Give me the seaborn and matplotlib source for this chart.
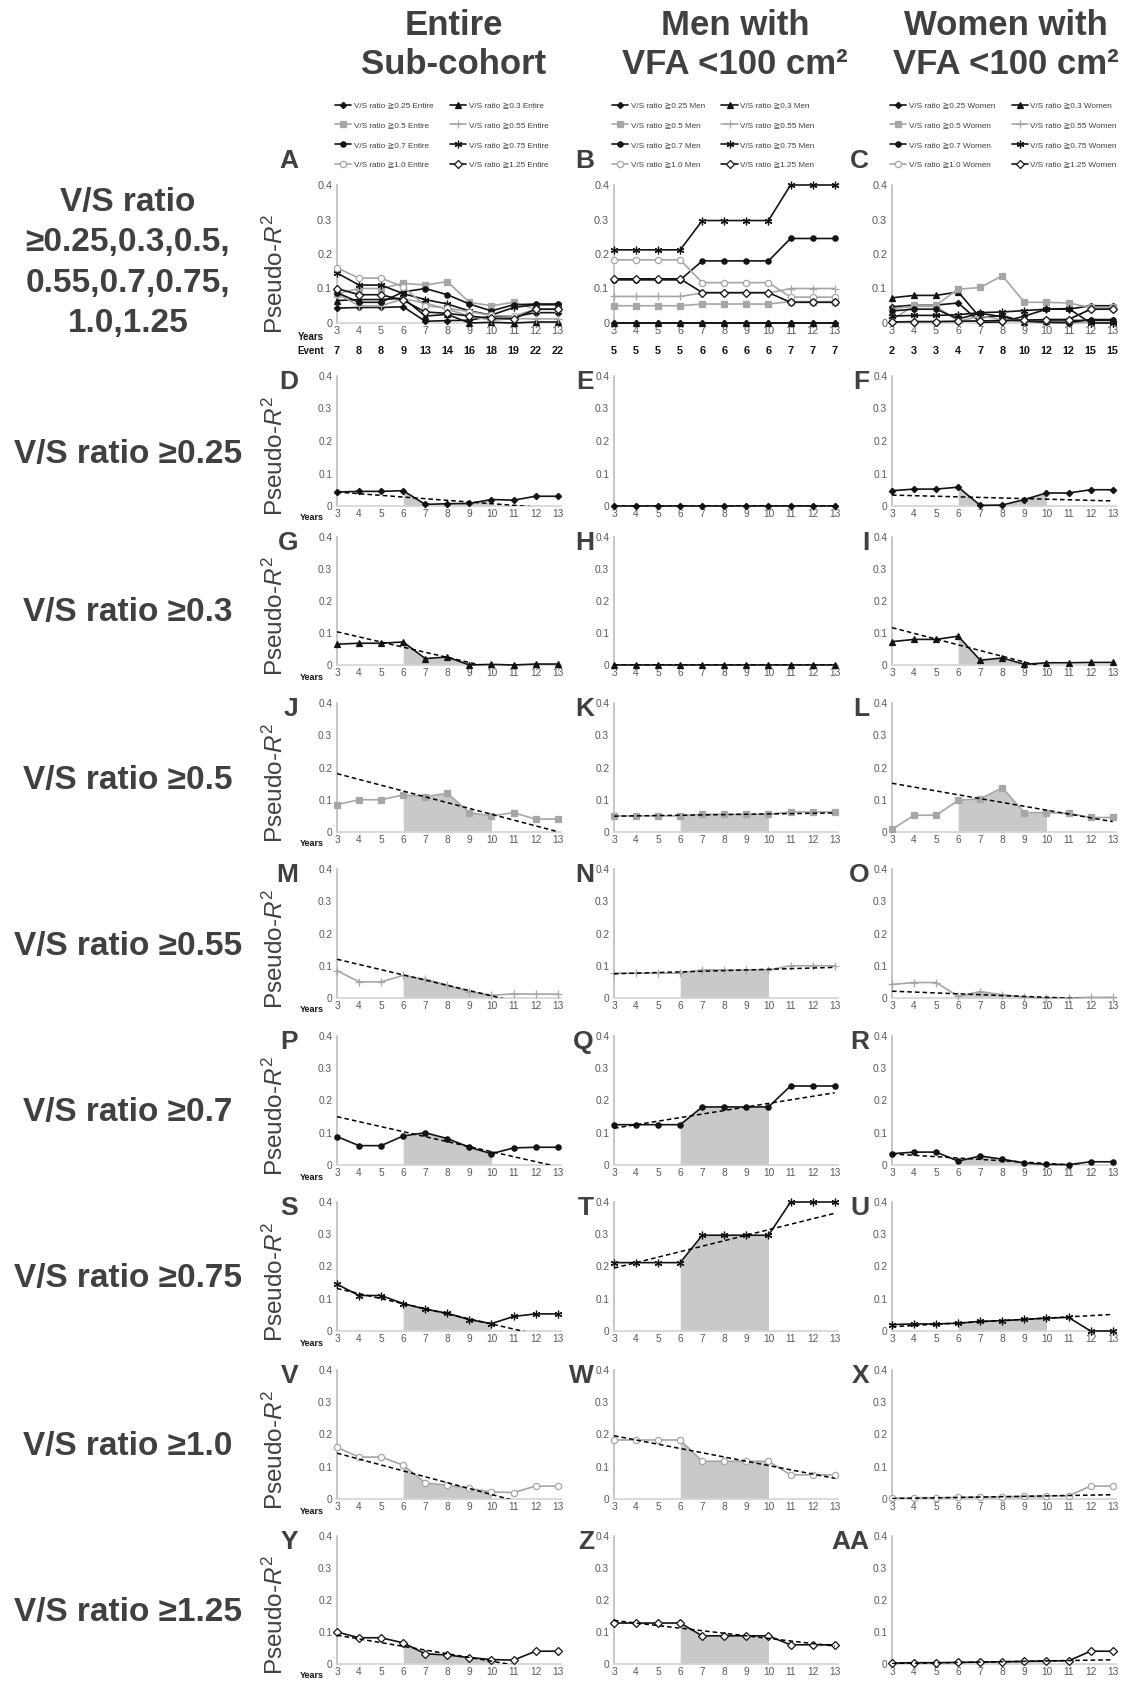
import numpy as np
import pandas as pd
import matplotlib
matplotlib.use("Agg")
import matplotlib.pyplot as plt
import seaborn as sns
from matplotlib import font_manager
from matplotlib.transforms import blended_transform_factory

# ---------------- data ----------------
years = [3, 4, 5, 6, 7, 8, 9, 10, 11, 12, 13]
ratio_labels = ["0.25", "0.3", "0.5", "0.55", "0.7", "0.75", "1.0", "1.25"]
group_names = ["Entire", "Men", "Women"]

# Entire sub-cohort
entire_025 = [0.043, 0.045, 0.045, 0.047, 0.005, 0.007, 0.008, 0.020, 0.018, 0.030, 0.030]
entire_030 = [0.065, 0.068, 0.068, 0.072, 0.020, 0.025, 0.000, 0.002, 0.000, 0.003, 0.003]
entire_050 = [0.085, 0.100, 0.100, 0.115, 0.110, 0.120, 0.060, 0.050, 0.060, 0.040, 0.040]
entire_055 = [0.085, 0.050, 0.050, 0.070, 0.058, 0.040, 0.020, 0.008, 0.013, 0.012, 0.012]
entire_070 = [0.088, 0.060, 0.060, 0.090, 0.100, 0.082, 0.055, 0.035, 0.053, 0.055, 0.055]
entire_075 = [0.145, 0.110, 0.110, 0.085, 0.068, 0.055, 0.035, 0.023, 0.045, 0.053, 0.053]
entire_100 = [0.160, 0.130, 0.130, 0.105, 0.050, 0.043, 0.033, 0.022, 0.020, 0.040, 0.040]
entire_125 = [0.100, 0.082, 0.082, 0.066, 0.032, 0.028, 0.020, 0.014, 0.012, 0.040, 0.040]

# Men with VFA < 100 cm2
men_025 = [0.0, 0.0, 0.0, 0.0, 0.0, 0.0, 0.0, 0.0, 0.0, 0.0, 0.0]
men_030 = [0.0, 0.0, 0.0, 0.0, 0.0, 0.0, 0.0, 0.0, 0.0, 0.0, 0.0]
men_050 = [0.050, 0.050, 0.050, 0.050, 0.055, 0.055, 0.055, 0.055, 0.062, 0.062, 0.062]
men_055 = [0.077, 0.077, 0.077, 0.077, 0.087, 0.087, 0.087, 0.087, 0.100, 0.100, 0.100]
men_070 = [0.125, 0.125, 0.125, 0.125, 0.180, 0.180, 0.180, 0.180, 0.245, 0.245, 0.245]
men_075 = [0.212, 0.212, 0.212, 0.212, 0.297, 0.297, 0.297, 0.297, 0.400, 0.400, 0.400]
men_100 = [0.183, 0.183, 0.183, 0.183, 0.117, 0.117, 0.117, 0.117, 0.075, 0.075, 0.075]
men_125 = [0.128, 0.128, 0.128, 0.128, 0.088, 0.088, 0.088, 0.088, 0.060, 0.060, 0.060]

# Women with VFA < 100 cm2
women_025 = [0.047, 0.052, 0.052, 0.058, 0.002, 0.003, 0.020, 0.040, 0.040, 0.050, 0.050]
women_030 = [0.073, 0.080, 0.080, 0.090, 0.015, 0.022, 0.002, 0.007, 0.007, 0.008, 0.008]
women_050 = [0.008, 0.052, 0.052, 0.098, 0.103, 0.137, 0.060, 0.060, 0.058, 0.045, 0.045]
women_055 = [0.042, 0.048, 0.048, 0.005, 0.020, 0.010, 0.003, 0.000, 0.000, 0.002, 0.002]
women_070 = [0.035, 0.040, 0.040, 0.012, 0.028, 0.018, 0.006, 0.002, 0.001, 0.010, 0.010]
women_075 = [0.020, 0.022, 0.022, 0.024, 0.030, 0.032, 0.036, 0.040, 0.042, 0.000, 0.000]
women_100 = [0.003, 0.004, 0.004, 0.005, 0.006, 0.007, 0.008, 0.010, 0.010, 0.040, 0.040]
women_125 = [0.003, 0.004, 0.004, 0.005, 0.006, 0.007, 0.008, 0.010, 0.010, 0.040, 0.040]

events_entire = [7, 8, 8, 9, 13, 14, 16, 18, 19, 22, 22]
events_men = [5, 5, 5, 5, 6, 6, 6, 6, 7, 7, 7]
events_women = [2, 3, 3, 4, 7, 8, 10, 12, 12, 15, 15]

series = {
    "Entire": [entire_025, entire_030, entire_050, entire_055, entire_070, entire_075, entire_100, entire_125],
    "Men": [men_025, men_030, men_050, men_055, men_070, men_075, men_100, men_125],
    "Women": [women_025, women_030, women_050, women_055, women_070, women_075, women_100, women_125],
}
events = {"Entire": events_entire, "Men": events_men, "Women": events_women}

col_titles = ["Entire\nSub-cohort", "Men with\nVFA <100 cm\u00b2", "Women with\nVFA <100 cm\u00b2"]
row_titles = ["V/S ratio\n\u22650.25,0.3,0.5,\n0.55,0.7,0.75,\n1.0,1.25"] + \
             ["V/S ratio \u2265" + r for r in ratio_labels]
panel_letters = [["A", "B", "C"], ["D", "E", "F"], ["G", "H", "I"], ["J", "K", "L"],
                 ["M", "N", "O"], ["P", "Q", "R"], ["S", "T", "U"], ["V", "W", "X"],
                 ["Y", "Z", "AA"]]

# ---------------- style ----------------
sns.set_style("white")
plt.rcParams["font.family"] = ["Liberation Sans", "DejaVu Sans"]
plt.rcParams["mathtext.fontset"] = "custom"
plt.rcParams["mathtext.rm"] = "Liberation Sans"
plt.rcParams["mathtext.it"] = "Liberation Sans:italic"
plt.rcParams["mathtext.bf"] = "Liberation Sans:bold"

available = {f.name for f in font_manager.fontManager.ttflist}
narrow = "Liberation Sans Narrow" if "Liberation Sans Narrow" in available else "Liberation Sans"

BLACK = "#141414"
GRAY = "#a6a6a6"
TXT = "#404040"
TICK = "#595959"
styles = [
    dict(color=BLACK, marker="D", mfc=BLACK, mec=BLACK, ms=3.2),
    dict(color=BLACK, marker="^", mfc=BLACK, mec=BLACK, ms=4.2),
    dict(color=GRAY, marker="s", mfc=GRAY, mec=GRAY, ms=4.3),
    dict(color=GRAY, marker="+", mfc=GRAY, mec=GRAY, ms=5.5),
    dict(color=BLACK, marker="o", mfc=BLACK, mec=BLACK, ms=3.8),
    dict(color=BLACK, marker=(6, 2, 0), mfc=BLACK, mec=BLACK, ms=5.5),
    dict(color=GRAY, marker="o", mfc="white", mec=GRAY, ms=4.5),
    dict(color=BLACK, marker="D", mfc="white", mec=BLACK, ms=4.0),
]

W, H = 1139, 1684
fig = plt.figure(figsize=(W / 100, H / 100), dpi=100)


def rect(left, top, width, height):
    return [left / W, 1 - (top + height) / H, width / W, height / H]


col_left = [337, 614, 892]
col_w = 224
row_box = [(185, 138), (376, 130), (537, 128), (703, 129), (869, 129),
           (1036, 129), (1202, 129), (1370, 129), (1536, 128)]
letter_right = [298, 594, 869]
col_center = [454, 735, 1006]


def draw_series(ax, vals, st, label=None):
    sns.lineplot(x=years, y=vals, ax=ax, color=st["color"], marker=st["marker"],
                 markersize=st["ms"], markerfacecolor=st["mfc"],
                 markeredgecolor=st["mec"], markeredgewidth=0.9,
                 linewidth=1.2, clip_on=False, legend=False, zorder=3,
                 label=label)
    return ax.lines[-1]


def style_axes(ax, fs):
    ax.set_xlim(3, 13.15)
    ax.set_ylim(0, 0.4)
    ax.set_yticks([0, 0.1, 0.2, 0.3, 0.4])
    ax.set_yticklabels(["0", "0.1", "0.2", "0.3", "0.4"])
    ax.set_xticks(years)
    ax.set_xticklabels([str(y) for y in years])
    ax.tick_params(length=0, labelsize=fs, colors=TICK, pad=3.5)
    ax.tick_params(axis="x", pad=2.5)
    sns.despine(ax=ax)
    ax.spines["left"].set_color("#bdbdbd")
    ax.spines["left"].set_linewidth(1.2)
    ax.spines["bottom"].set_color("#d4d4d4")
    ax.spines["bottom"].set_linewidth(1.2)
    ax.set_xlabel("")
    ax.set_ylabel("")
    ax.grid(False)
    ax.patch.set_alpha(0)


for r in range(9):
    top, hgt = row_box[r]
    for c, g in enumerate(group_names):
        ax = fig.add_axes(rect(col_left[c], top, col_w, hgt))
        fs = 7.8 if r == 0 else 7.3
        if r == 0:
            handles = []
            for k in range(8):
                ln = draw_series(ax, series[g][k], styles[k],
                                 label="V/S ratio \u2267" + ratio_labels[k] + " " + g)
                handles.append(ln)
            order = [0, 2, 4, 6, 1, 3, 5, 7]
            leg = ax.legend([handles[i] for i in order],
                            [handles[i].get_label() for i in order],
                            ncol=2, loc="upper left",
                            bbox_to_anchor=((col_left[c] - 2) / W, 1 - 102 / H),
                            bbox_transform=fig.transFigure, frameon=False,
                            fontsize=5.9, handlelength=2.0, handletextpad=0.3,
                            columnspacing=2.0, labelspacing=1.45, borderpad=0,
                            borderaxespad=0)
            for t in leg.get_texts():
                t.set_color(TXT)
            style_axes(ax, fs)
            trans = blended_transform_factory(ax.transData, ax.transAxes)
            for yv, n in zip(years, events[g]):
                ax.text(yv, -28 / hgt, str(n), transform=trans, ha="center",
                        va="center", fontsize=7.8, fontweight="bold", color=BLACK)
            if c == 0:
                ax.text(2.4, -14 / hgt, "Years", transform=trans, ha="right",
                        va="center", fontsize=7.0, fontweight="bold", color=BLACK)
                ax.text(2.4, -28 / hgt, "Event", transform=trans, ha="right",
                        va="center", fontsize=7.0, fontweight="bold", color=BLACK)
        else:
            k = r - 1
            vals = series[g][k]
            st = styles[k]
            # shaded area between years 6 and 10
            ax.fill_between(years[3:8], vals[3:8], 0, color="#c9c9c9", lw=0, zorder=1)
            draw_series(ax, vals, st)
            # linear trend fitted on years 6-10
            coef = np.polyfit(years[3:8], vals[3:8], 1)
            trend = np.polyval(coef, years)
            sns.lineplot(x=years, y=trend, ax=ax, color="black", linestyle=(0, (3, 2)),
                         linewidth=1.1, legend=False, zorder=4)
            style_axes(ax, fs)
            if c == 0:
                trans = blended_transform_factory(ax.transData, ax.transAxes)
                ax.text(2.4, -12 / hgt, "Years", transform=trans, ha="right",
                        va="center", fontsize=6.5, fontweight="bold", color=BLACK)
        # panel letter
        ly = 161 if r == 0 else top + 6
        fig.text(letter_right[c] / W, 1 - ly / H, panel_letters[r][c], ha="right",
                 va="center", fontsize=19, fontweight="bold", color=TXT)
        if c == 0:
            fig.text(275 / W, 1 - (top + hgt / 2 + (20 if r == 0 else 15)) / H,
                     "Pseudo-$\\mathit{R}^{2}$", rotation=90, ha="center", va="center",
                     fontsize=17.5, color=TXT)
    # row title
    if r == 0:
        fig.text(128 / W, 1 - 263 / H, row_titles[0], ha="center", va="center",
                 fontsize=24, fontweight="bold", color=TXT, linespacing=1.38)
    else:
        fig.text(128 / W, 1 - (top + hgt - 52) / H, row_titles[r], ha="center",
                 va="center", fontsize=24, fontweight="bold", color=TXT)

# column titles
for c in range(3):
    fig.text(col_center[c] / W, 1 - 45 / H, col_titles[c], ha="center", va="center",
             fontsize=25, fontweight="bold", color=TXT, family=[narrow, "DejaVu Sans"],
             linespacing=1.25)

fig.savefig("out.png", dpi=100, facecolor="white")
